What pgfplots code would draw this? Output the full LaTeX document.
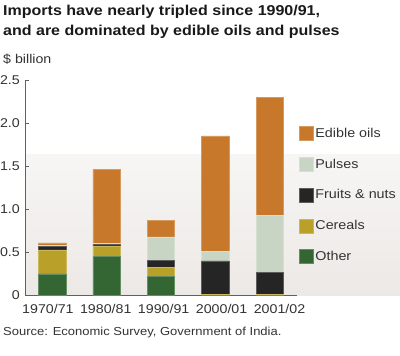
\documentclass[border=0pt]{standalone}
\usepackage{pgfplots}
\pgfplotsset{compat=1.18}
\usepackage{pgfplotstable}
\usepackage{fontspec}
\setmainfont{Liberation Sans}[FakeStretch=1.12]
\definecolor{oils}{HTML}{C8782A}
\definecolor{pulses}{HTML}{C8D4C4}
\definecolor{fruits}{HTML}{252525}
\definecolor{cereals}{HTML}{B9A028}
\definecolor{other}{HTML}{336633}
\definecolor{axgray}{HTML}{606060}
\definecolor{txt}{HTML}{333333}
\definecolor{bgtop}{HTML}{F7F6F5}
\definecolor{bgbot}{HTML}{ECE8E5}

\pgfplotstableread{
x other cereals fruits pulses oils
0 0.25 0.28 0.04 0.01 0.03
1 0.45 0.125 0.015 0.015 0.86
2 0.225 0.105 0.08 0.27 0.19
3 0.005 0.012 0.385 0.11 1.34
4 0.005 0.012 0.25 0.66 1.37
}\datatable

\pgfplotsset{sq legend/.style={legend image code/.code={\draw[##1] (0pt,-7pt) rectangle (14pt,7pt);}}}

\begin{document}
\begin{tikzpicture}[x=1pt,y=1pt]
\shade[top color=bgtop,bottom color=bgbot] (25,60.5) rectangle (400,201);
\node[anchor=base west, inner sep=0, font=\fontsize{14.3}{17}\selectfont\bfseries, text=black!90] at (3,340.3) {Imports have nearly tripled since 1990/91,};
\node[anchor=base west, inner sep=0, font=\fontsize{14.3}{17}\selectfont\bfseries, text=black!90] at (3,320) {and are dominated by edible oils and pulses};
\node[anchor=base west, inner sep=0, font=\fontsize{12.7}{15}\selectfont, text=txt] at (3,292) {\$ billion};
\node[anchor=base west, inner sep=0, font=\fontsize{11.6}{14}\selectfont, text=txt] at (3,20) {Source: Economic Survey, Government of India.};
\begin{axis}[
  at={(25pt,60.5pt)}, anchor=south west,
  scale only axis, width=272pt, height=215.5pt,
  ybar stacked, bar width=27.5pt,
  xmin=-0.5, xmax=4.5, ymin=0, ymax=2.5,
  axis x line*=bottom, axis y line*=left,
  axis line style={axgray, line width=0.8pt},
  xtick={0,1,2,3,4},
  xticklabels={1970/71,1980/81,1990/91,2000/01,2001/02},
  ytick={0,0.5,1,1.5,2,2.5},
  yticklabels={0,0.5,1.0,1.5,2.0,2.5},
  tick align=inside, major tick length=4pt,
  tick style={axgray, line width=0.8pt},
  ticklabel style={font=\fontsize{12.7}{15}\selectfont, text=txt, inner sep=0pt},
  yticklabel style={anchor=east, xshift=-5pt},
  xticklabel style={anchor=north, yshift=-9pt, xshift={\ticknum*3.5pt-4.3pt}},
  clip=false,
  reverse legend,
  legend style={at={(axis description cs:1.007,0.786)}, anchor=north west,
    draw=none, fill=none, inner sep=0pt, outer sep=0pt,
    row sep=16.3pt, column sep=2pt,
    font=\fontsize{12.8}{15}\selectfont, text=txt,
    nodes={inner sep=0pt}},
  legend cell align=left,
]
\addplot[fill=other, draw=other!75!white, line width=0.5pt, sq legend] table[x=x,y=other] {\datatable};
\addplot[fill=cereals, draw=cereals!75!white, line width=0.5pt, sq legend] table[x=x,y=cereals] {\datatable};
\addplot[fill=fruits, draw=fruits!75!white, line width=0.5pt, sq legend] table[x=x,y=fruits] {\datatable};
\addplot[fill=pulses, draw=pulses!75!white, line width=0.5pt, sq legend] table[x=x,y=pulses] {\datatable};
\addplot[fill=oils, draw=oils!75!white, line width=0.5pt, sq legend] table[x=x,y=oils] {\datatable};
\legend{Other,Cereals,Fruits \& nuts,Pulses,Edible oils}
\end{axis}
\pgfresetboundingbox
\path[use as bounding box] (0,0) rectangle (400,356);
\end{tikzpicture}
\end{document}
